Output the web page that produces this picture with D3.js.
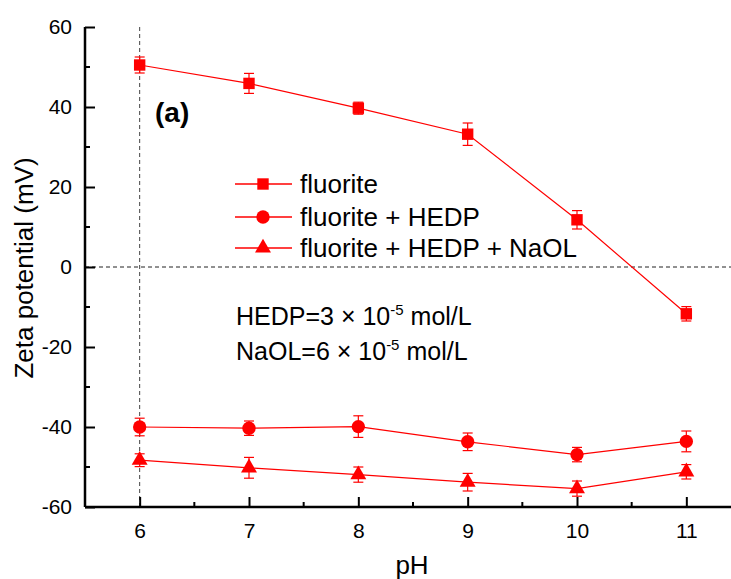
<!DOCTYPE html>
<html>
<head>
<meta charset="utf-8">
<script src="https://cdn.jsdelivr.net/npm/d3@7"></script>
<style>
  body { margin: 0; background: #fff; }
  svg { display: block; font-family: "Liberation Sans", Arial, sans-serif; }
</style>
</head>
<body>
<div class="chart"></div>
<script>
// zeta potential vs pH
var width = 731, height = 579;

var pH = [6, 7, 8, 9, 10, 11];
var fluorite = [50.5, 45.9, 39.7, 33.2, 11.8, -11.7];
var fluoriteErr = [2.0, 2.5, 1.5, 2.8, 2.3, 1.8];
var hedp = [-40.0, -40.3, -39.9, -43.7, -46.9, -43.6];
var hedpErr = [2.2, 1.8, 2.7, 2.2, 1.8, 2.6];
var naol = [-48.3, -50.2, -51.9, -53.8, -55.4, -51.2];
var naolErr = [1.6, 2.6, 1.9, 2.2, 1.9, 1.8];
var seriesNames = ["fluorite", "fluorite + HEDP", "fluorite + HEDP + NaOL"];
var yTicks = [-60, -40, -20, 0, 20, 40, 60];

var x = d3.scaleLinear().domain([5.5, 11.5]).range([85, 741]);
var y = d3.scaleLinear().domain([-60, 60]).range([507, 27]);

var svg = d3.select(".chart").append("svg").attr("width", width).attr("height", height);

var red = "#ff0000";

// dashed reference lines
svg.append("line").attr("x1", x(6)).attr("x2", x(6)).attr("y1", y(60)).attr("y2", y(-60))
  .attr("stroke", "#444").attr("stroke-width", 1).attr("stroke-dasharray", "4,3");
svg.append("line").attr("x1", x(5.5)).attr("x2", width).attr("y1", y(0)).attr("y2", y(0))
  .attr("stroke", "#222").attr("stroke-width", 1).attr("stroke-dasharray", "4,3");

// axes (ticks inward)
var yAxis = d3.axisLeft(y).tickValues(yTicks).tickFormat(function(d){ return String(d); }).tickSize(-10).tickPadding(13);
var gy = svg.append("g").attr("transform", "translate(85,0)").call(yAxis);
var xAxis = d3.axisBottom(x).tickValues(pH).tickFormat(d3.format("d")).tickSize(-10).tickPadding(16);
var gx = svg.append("g").attr("transform", "translate(0,507)").call(xAxis);

[gx, gy].forEach(function(g){
  g.select(".domain").attr("stroke", "#000").attr("stroke-width", 2.5);
  g.selectAll(".tick line").attr("stroke", "#000").attr("stroke-width", 2);
  g.selectAll(".tick text").attr("fill", "#000").style("font-size", "21px").style("font-family", "Liberation Sans, Arial, sans-serif");
});
gx.select(".domain").attr("d", "M85,0H" + width);
gy.select(".domain").attr("d", "M0,27V507");

// minor ticks
var yMinor = d3.range(-50, 60, 20);
svg.selectAll(".yminor").data(yMinor).enter().append("line")
  .attr("x1", 85).attr("x2", 90).attr("y1", function(d){ return y(d); }).attr("y2", function(d){ return y(d); })
  .attr("stroke", "#000").attr("stroke-width", 2);
var xMinor = [6.5, 7.5, 8.5, 9.5, 10.5];
svg.selectAll(".xminor").data(xMinor).enter().append("line")
  .attr("x1", function(d){ return x(d); }).attr("x2", function(d){ return x(d); }).attr("y1", 507).attr("y2", 502)
  .attr("stroke", "#000").attr("stroke-width", 2);

// axis titles
svg.append("text").attr("x", 412).attr("y", 574).attr("text-anchor", "middle")
  .style("font-size", "26px").text("pH");
svg.append("text").attr("transform", "translate(33,268) rotate(-90)").attr("text-anchor", "middle")
  .style("font-size", "26px").text("Zeta potential (mV)");

// panel label
svg.append("text").attr("x", 155).attr("y", 122).style("font-size", "28px").style("font-weight", "bold").text("(a)");

var series = [
  {vals: fluorite, err: fluoriteErr, shape: d3.symbolSquare, size: 130},
  {vals: hedp, err: hedpErr, shape: d3.symbolCircle, size: 140},
  {vals: naol, err: naolErr, shape: d3.symbolTriangle, size: 110}
];

var line = d3.line().x(function(d){ return x(d[0]); }).y(function(d){ return y(d[1]); });

series.forEach(function(s){
  var pts = pH.map(function(p, i){ return [p, s.vals[i], s.err[i]]; });
  svg.append("path").datum(pts).attr("d", line).attr("fill", "none").attr("stroke", red).attr("stroke-width", 1.2);
  var eb = svg.append("g");
  pts.forEach(function(d){
    var cx = x(d[0]);
    eb.append("line").attr("x1", cx).attr("x2", cx).attr("y1", y(d[1] - d[2])).attr("y2", y(d[1] + d[2]))
      .attr("stroke", red).attr("stroke-width", 1.2);
    [d[1] - d[2], d[1] + d[2]].forEach(function(v){
      eb.append("line").attr("x1", cx - 5).attr("x2", cx + 5).attr("y1", y(v)).attr("y2", y(v))
        .attr("stroke", red).attr("stroke-width", 1.2);
    });
  });
  svg.selectAll(null).data(pts).enter().append("path")
    .attr("d", d3.symbol().type(s.shape).size(s.size))
    .attr("transform", function(d){ return "translate(" + x(d[0]) + "," + y(d[1]) + ")"; })
    .attr("fill", red);
});

// legend
var legendY = [184, 217, 248];
series.forEach(function(s, i){
  svg.append("line").attr("x1", 235).attr("x2", 292).attr("y1", legendY[i]).attr("y2", legendY[i])
    .attr("stroke", red).attr("stroke-width", 1.5);
  svg.append("path").attr("d", d3.symbol().type(s.shape).size(s.size))
    .attr("transform", "translate(263," + legendY[i] + ")").attr("fill", red);
  svg.append("text").attr("x", 300).attr("y", legendY[i] + 9).style("font-size", "26px").text(seriesNames[i]);
});

// concentrations
var notes = [["HEDP=3 \u00d7 10", "-5", " mol/L"], ["NaOL=6 \u00d7 10", "-5", " mol/L"]];
notes.forEach(function(n, i){
  var t = svg.append("text").attr("x", 236).attr("y", 325 + i * 35).style("font-size", "25px");
  t.append("tspan").text(n[0]);
  t.append("tspan").attr("dy", -10).style("font-size", "15px").text(n[1]);
  t.append("tspan").attr("dy", 10).text(n[2]);
});
</script>
</body>
</html>
